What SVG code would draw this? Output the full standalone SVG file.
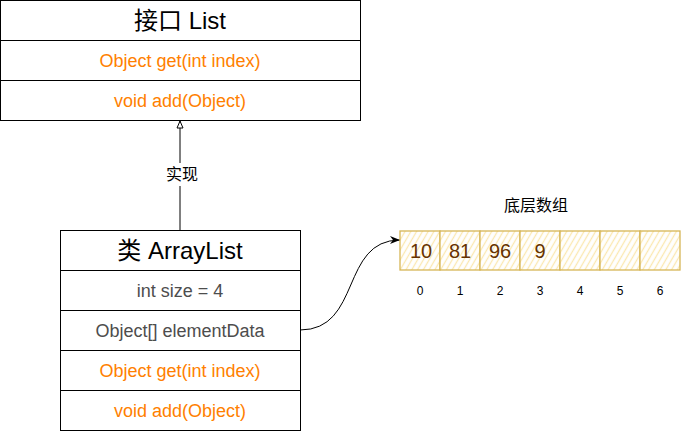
<svg xmlns="http://www.w3.org/2000/svg" width="681" height="431" viewBox="0 0 681 431">
<style>
.box{fill:#ffffff;stroke:#000000;stroke-width:1}
.t{font-family:"Liberation Sans",Arial,"Noto Sans CJK SC",sans-serif;text-anchor:middle}
.title{font-size:24px;fill:#000000}
.m{font-size:18px;fill:#ff8000}
.g{font-size:18px;fill:#4d4d4d}
.cell{fill:url(#hatch);stroke:#d6b656;stroke-width:1.3}
.num{font-size:20px;fill:#663300}
.idx{font-size:12px;fill:#000000}
.lbl{font-size:16px;fill:#000000}
.edge{fill:none;stroke:#000000;stroke-width:1}
</style>
<defs>
<pattern id="hatch" width="5" height="10" patternUnits="userSpaceOnUse" patternTransform="rotate(30)">
<rect width="5" height="10" fill="#ffffff"/>
<line x1="1.5" y1="0" x2="1.5" y2="10" stroke="#fbe8b0" stroke-width="1.3"/>
</pattern>
<marker id="hollow" markerWidth="10" markerHeight="10" refX="8" refY="4" orient="auto" markerUnits="userSpaceOnUse">
<path d="M1,1 L8,4 L1,7 Z" fill="#ffffff" stroke="#000000" stroke-width="1"/>
</marker>
<marker id="arrow" markerWidth="12" markerHeight="10" refX="10" refY="5" orient="auto" markerUnits="userSpaceOnUse">
<path d="M0,1 L10,5 L0,9 L3,5 Z" fill="#000000"/>
</marker>
</defs>

<g id="connectors">
<path class="edge" d="M180,230 L180,186"/>
<path class="edge" d="M180,163 L180,121" marker-end="url(#hollow)"/>
<text class="t lbl" x="182" y="180">实现</text>
<path class="edge" d="M300,330 C362,330 340,240 400,240" marker-end="url(#arrow)"/>
</g>

<g id="list-interface">
<rect class="box" x="0.5" y="0.5" width="360" height="40"/>
<text class="t title" x="180" y="29">接口 List</text>
<rect class="box" x="0.5" y="40.5" width="360" height="40"/>
<text class="t m" x="180" y="67">Object get(int index)</text>
<rect class="box" x="0.5" y="80.5" width="360" height="40"/>
<text class="t m" x="180" y="107">void add(Object)</text>
</g>

<g id="arraylist-class">
<rect class="box" x="60.5" y="230.5" width="240" height="40"/>
<text class="t title" x="180" y="259">类 ArrayList</text>
<rect class="box" x="60.5" y="270.5" width="240" height="40"/>
<text class="t g" x="180" y="297">int size = 4</text>
<rect class="box" x="60.5" y="310.5" width="240" height="40"/>
<text class="t g" x="180" y="337">Object[] elementData</text>
<rect class="box" x="60.5" y="350.5" width="240" height="40"/>
<text class="t m" x="180" y="377">Object get(int index)</text>
<rect class="box" x="60.5" y="390.5" width="240" height="40"/>
<text class="t m" x="180" y="417">void add(Object)</text>
</g>

<g id="array">
<text class="t lbl" x="536" y="211">底层数组</text>
<g id="cell0"><rect class="cell" x="400" y="231" width="40" height="39"/><text class="t num" x="421" y="258">10</text><text class="t idx" x="420" y="295">0</text></g>
<g id="cell1"><rect class="cell" x="440" y="231" width="40" height="39"/><text class="t num" x="460" y="258">81</text><text class="t idx" x="460" y="295">1</text></g>
<g id="cell2"><rect class="cell" x="480" y="231" width="40" height="39"/><text class="t num" x="500" y="258">96</text><text class="t idx" x="500" y="295">2</text></g>
<g id="cell3"><rect class="cell" x="520" y="231" width="40" height="39"/><text class="t num" x="540" y="258">9</text><text class="t idx" x="540" y="295">3</text></g>
<g id="cell4"><rect class="cell" x="560" y="231" width="40" height="39"/><text class="t idx" x="580" y="295">4</text></g>
<g id="cell5"><rect class="cell" x="600" y="231" width="40" height="39"/><text class="t idx" x="620" y="295">5</text></g>
<g id="cell6"><rect class="cell" x="640" y="231" width="40" height="39"/><text class="t idx" x="660" y="295">6</text></g>
</g>
</svg>
